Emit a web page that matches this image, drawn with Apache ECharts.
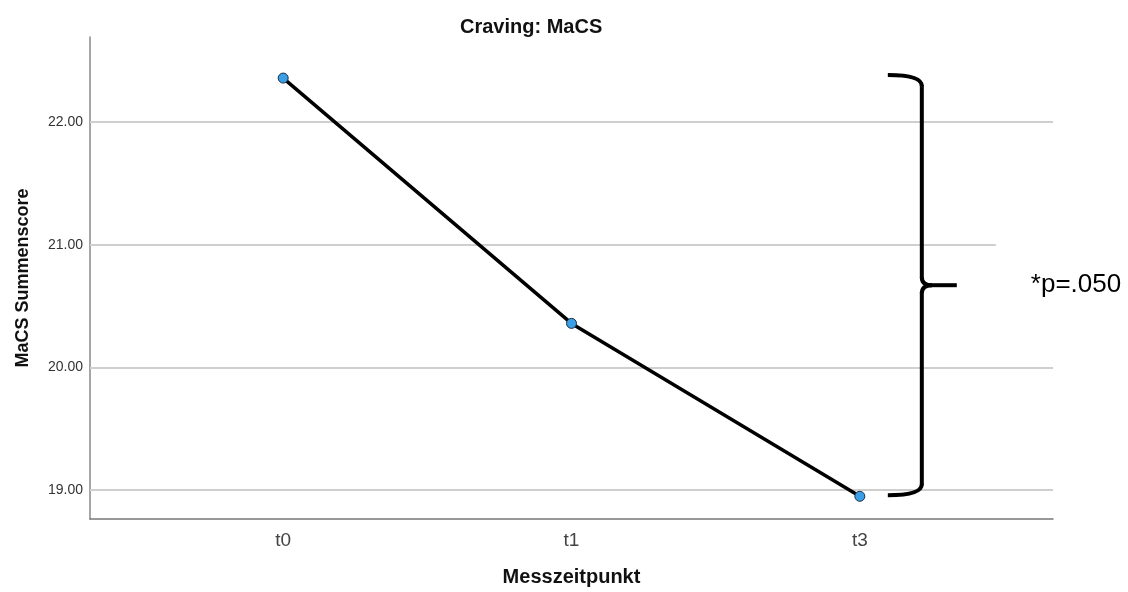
<!DOCTYPE html>
<html>
<head>
<meta charset="utf-8">
<script src="https://cdn.jsdelivr.net/npm/echarts@6/dist/echarts.min.js"></script>
<style>
html,body{margin:0;padding:0;background:#fff;}
#chart{width:1128px;height:592px;}
</style>
</head>
<body>
<div id="chart"></div>
<script>
// ---- data ----
const categories = ['t0', 't1', 't3'];
const values = [22.36, 20.36, 18.95];
const yTicks = [19, 20, 21, 22];
const annotationText = '*p=.050';

const FONT = '"Liberation Sans", Arial, sans-serif';
const chart = echarts.init(document.getElementById('chart'));

const seriesData = values.map((v, i) => [i, v]);

chart.setOption({
  animation: false,
  backgroundColor: '#ffffff',
  title: {
    text: 'Craving: MaCS',
    left: 455,
    top: 12,
    textStyle: { fontFamily: FONT, fontSize: 20, fontWeight: 'bold', color: '#111' }
  },
  grid: { left: 90, right: 75, top: 37, bottom: 69 },
  xAxis: {
    type: 'value',
    min: -0.67,
    max: 2.67,
    name: 'Messzeitpunkt',
    nameLocation: 'middle',
    nameGap: 48,
    nameTextStyle: { fontFamily: FONT, fontSize: 20, fontWeight: 'bold', color: '#111' },
    axisLine: { show: true, onZero: false, lineStyle: { color: '#777', width: 1.5 } },
    axisTick: { show: false },
    splitLine: { show: false },
    axisLabel: {
      customValues: categories.map((c, i) => i),
      formatter: v => categories[Math.round(v)] || '',
      fontFamily: FONT, fontSize: 19, color: '#444', margin: 12
    }
  },
  yAxis: {
    type: 'value',
    min: 18.765,
    max: 22.695,
    name: 'MaCS Summenscore',
    nameLocation: 'middle',
    nameGap: 58,
    nameTextStyle: { fontFamily: FONT, fontSize: 18, fontWeight: 'bold', color: '#111' },
    axisLine: { show: true, onZero: false, lineStyle: { color: '#888', width: 1.5 } },
    axisTick: { show: false },
    splitLine: { show: false },
    axisLabel: {
      customValues: yTicks,
      formatter: v => Number(v).toFixed(2),
      fontFamily: FONT, fontSize: 14, color: '#333', margin: 7
    }
  },
  series: [{
    type: 'line',
    data: seriesData,
    symbol: 'circle',
    symbolSize: 10,
    lineStyle: { color: '#000', width: 3.5 },
    itemStyle: { color: '#3a9fe6', borderColor: '#1b2f45', borderWidth: 1 },
    z: 5,
    markLine: {
      silent: true,
      symbol: ['none', 'none'],
      label: { show: false },
      lineStyle: { color: '#cfcfcf', width: 2, type: 'solid' },
      data: yTicks.map(t => ({ yAxis: t })),
      z: 1
    }
  }]
});

// ---- brace annotation spanning first to last value ----
const pTop = chart.convertToPixel({ gridIndex: 0 }, [categories.length - 1, values[0]]);
const pBot = chart.convertToPixel({ gridIndex: 0 }, [categories.length - 1, values[values.length - 1]]);
const xb = pTop[0];
const yT = pTop[1] - 3;
const yB = pBot[1] - 1;
const yM = (yT + yB) / 2;
const xL = xb + 28, xV = xb + 62, xTip = xb + 97;

const braceStyle = { stroke: '#000', lineWidth: 4, fill: 'none', lineCap: 'butt' };
const curve = (x1, y1, cx, cy, x2, y2) => ({
  type: 'bezierCurve', z: 60,
  shape: { x1: x1, y1: y1, cpx1: cx, cpy1: cy, x2: x2, y2: y2 },
  style: braceStyle
});
const seg = (x1, y1, x2, y2) => ({
  type: 'line', z: 60,
  shape: { x1: x1, y1: y1, x2: x2, y2: y2 },
  style: braceStyle
});

chart.setOption({
  graphic: [
    {
      type: 'rect', z: 50,
      shape: { x: xTip + 39, y: yM - 47, width: 1128 - (xTip + 39), height: 95 },
      style: { fill: '#ffffff' }
    },
    curve(xL, yT, xV, yT, xV, yT + 11),
    seg(xV, yT + 10, xV, yM - 7),
    curve(xV, yM - 8, xV, yM, xV + 10, yM),
    seg(xV + 9, yM, xTip, yM),
    curve(xV + 10, yM, xV, yM, xV, yM + 8),
    seg(xV, yM + 7, xV, yB - 10),
    curve(xV, yB - 11, xV, yB, xL, yB),
    {
      type: 'text', z: 60,
      x: xTip + 74, y: yM,
      style: {
        text: annotationText, fontFamily: FONT, fontSize: 26, fill: '#000',
        textAlign: 'left', textVerticalAlign: 'middle'
      }
    }
  ]
});
</script>
</body>
</html>
